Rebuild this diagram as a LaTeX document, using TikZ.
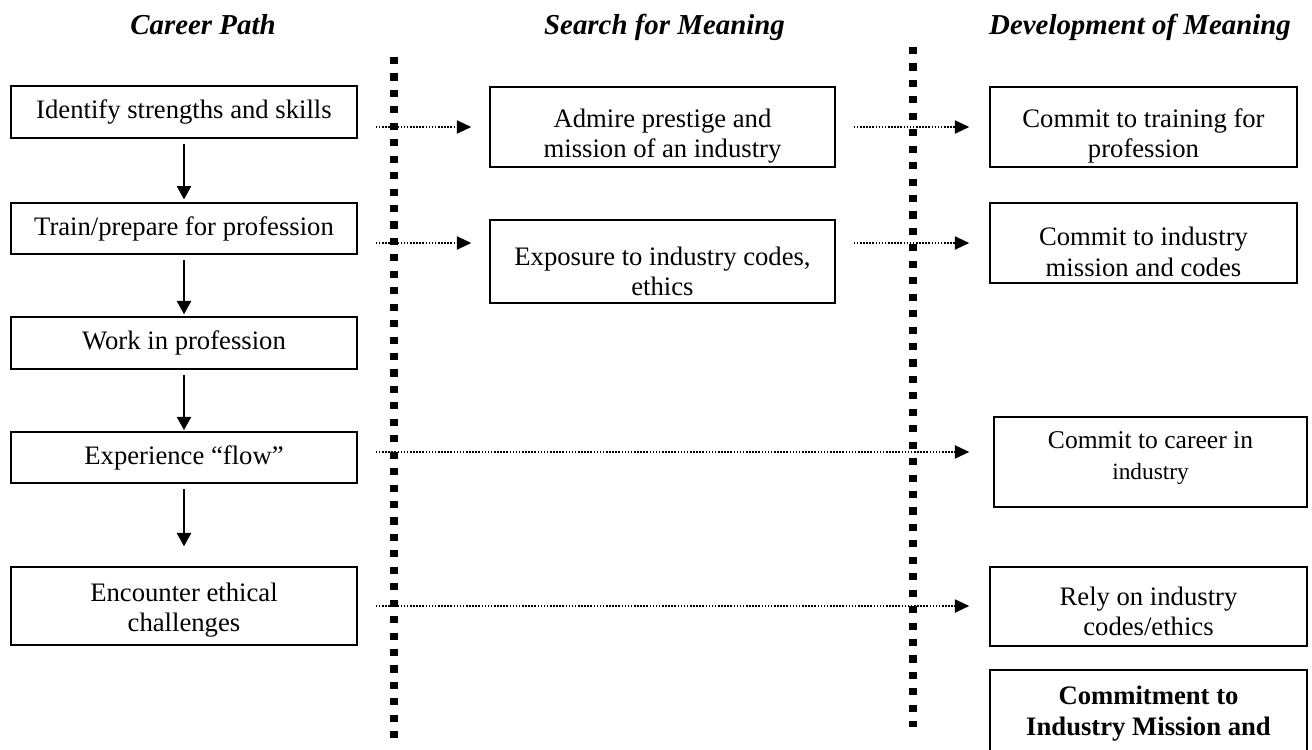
\documentclass[tikz,border=0pt]{standalone}
\usepackage{fontspec}
\setmainfont{Liberation Serif}
\usetikzlibrary{arrows.meta}
\newlength{\pxu}
\setlength{\pxu}{0.45pt}
\newcommand{\cellbox}[4]{\parbox[c][#2\pxu][c]{#1\pxu}{\centering\vspace*{#3\pxu}#4\par}}

\begin{document}
\begin{tikzpicture}[x=0.45pt,y=-0.45pt,
   every node/.style={inner sep=0pt,font=\fontsize{12}{13.8}\selectfont},
   stage/.style={draw,line width=0.7pt},
   heading/.style={anchor=base,font=\fontsize{13}{15}\selectfont\bfseries\itshape},
   flowarrow/.style={-{Triangle[length=6pt,width=6.5pt]},line width=0.6pt},
   linkarrow/.style={-{Triangle[length=6.5pt,width=6pt]},line width=0.6pt,dash pattern=on 0.7pt off 0.7pt},
   divider/.style={line width=3.2pt,dash pattern=on 3.2pt off 4.2pt}]
\useasboundingbox (0,0) rectangle (1312,749);
\clip (0,0) rectangle (1312,749);
\node[heading] (cphead) at (203,34) {Career Path};
\node[heading] (smhead) at (664.5,34) {Search for Meaning};
\node[heading] (dmhead) at (1140,34) {Development of Meaning};
\draw[divider] (394,57) -- (394,741);
\draw[divider] (913,47) -- (913,727);
\node[stage] (idsk) at (184,112) {\cellbox{346}{52}{0}{Identify strengths and skills}};
\node[stage] (prep) at (184,228.5) {\cellbox{346}{51}{0}{Train/prepare for profession}};
\node[stage] (work) at (184,343) {\cellbox{346}{52}{0}{Work in profession}};
\node[stage] (flow) at (184,457.5) {\cellbox{346}{51}{0}{Experience “flow”}};
\node[stage] (ethic) at (184,606) {\cellbox{346}{78}{8}{Encounter ethical\\challenges}};
\node[stage] (admire) at (662.5,127) {\cellbox{345}{80}{18}{Admire prestige and\\mission of an industry}};
\node[stage] (expo) at (662.5,261.5) {\cellbox{345}{83}{20}{Exposure to industry codes,\\ethics}};
\node[stage] (train) at (1143.5,127) {\cellbox{307}{80}{18}{Commit to training for\\profession}};
\node[stage] (mission) at (1143.5,243) {\cellbox{307}{80}{18}{Commit to industry\\mission and codes}};
\node[stage] (career) at (1150.5,462) {\cellbox{313}{90}{-8}{\fontsize{11.5}{13.8}\selectfont Commit to career in\\{\fontsize{10.5}{12}\selectfont industry}}};
\node[stage] (rely) at (1148.5,606.5) {\cellbox{317}{79}{10}{Rely on industry\\codes/ethics}};
\node[stage,anchor=north] (commit) at (1148.5,669) {\cellbox{317}{110}{-22}{\bfseries Commitment to\\Industry Mission and}};
\foreach \a/\b/\s in {idsk/prep/1.3pt,prep/work/0.9pt,work/flow/0.5pt,flow/ethic/9pt}
   \draw[flowarrow,shorten <=2.4pt,shorten >=\s] (\a) -- (\b);
\draw[linkarrow,shorten <=8.1pt,shorten >=8.1pt] (idsk.east |- admire.west) -- (admire.west);
\draw[linkarrow,shorten <=8.1pt,shorten >=9pt] (admire) -- (train);
\draw[linkarrow,shorten <=8.1pt,shorten >=8.1pt] (prep.east |- mission.west) -- (expo.west |- mission.west);
\draw[linkarrow,shorten <=8.1pt,shorten >=9pt] (expo.east |- mission.west) -- (mission.west);
\draw[linkarrow,shorten <=8.1pt,shorten >=10.8pt] ([yshift=2.5pt]flow.east) -- ([yshift=2.5pt]flow.east -| career.west);
\draw[linkarrow,shorten <=8.1pt,shorten >=9pt] (ethic.east) -- (rely.west |- ethic.east);
\end{tikzpicture}
\end{document}
